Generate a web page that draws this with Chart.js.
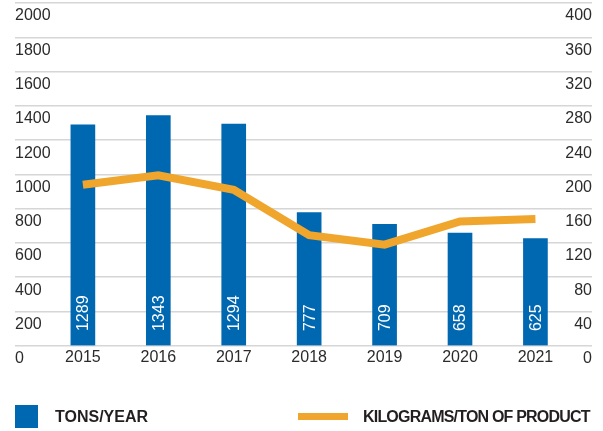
<!DOCTYPE html>
<html>
<head>
<meta charset="utf-8">
<script src="https://cdn.jsdelivr.net/npm/chart.js"></script>
<style>
  body { margin: 0; background: #fff; }
  #wrap { position: relative; width: 603px; height: 431px; font-family: "Liberation Sans", Arial, sans-serif; }
  .lg-box { position: absolute; left: 15px; top: 405px; width: 23px; height: 23px; background: #0067b1; }
  .lg-line { position: absolute; left: 298px; top: 413px; width: 50px; height: 7px; background: #f0a52c; }
  .lg-text { position: absolute; top: 407px; font-size: 16px; font-weight: bold; color: #231f20; line-height: 20px; white-space: nowrap; }
</style>
</head>
<body>
<div id="wrap">
  <canvas id="chart"></canvas>
  <div class="lg-box"></div>
  <div class="lg-text" style="left:55px">TONS/YEAR</div>
  <div class="lg-line"></div>
  <div class="lg-text" style="left:363px;letter-spacing:-0.8px">KILOGRAMS/TON OF PRODUCT</div>
</div>
<script>
// data
const years = ['2015', '2016', '2017', '2018', '2019', '2020', '2021'];
const tonsPerYear = [1289, 1343, 1294, 777, 709, 658, 625];
const kgPerTon = [188, 199, 182, 129, 118, 145, 148];

const BLUE = '#0067b1';
const ORANGE = '#f0a52c';

// white rotated value labels inside the bars
const barLabels = {
  id: 'barLabels',
  afterDatasetsDraw(chart) {
    const meta = chart.getDatasetMeta(1);
    const ctx = chart.ctx;
    ctx.save();
    ctx.fillStyle = '#fff';
    ctx.font = '16px "Liberation Sans", Arial, sans-serif';
    ctx.textAlign = 'left';
    ctx.textBaseline = 'middle';
    meta.data.forEach((bar, i) => {
      ctx.save();
      ctx.translate(bar.x + 1, bar.base - 14);
      ctx.rotate(-Math.PI / 2);
      ctx.fillText(String(tonsPerYear[i]), 0, 0);
      ctx.restore();
    });
    ctx.restore();
  }
};

const noPad = s => { s.paddingTop = 0; s.paddingBottom = 0; s.paddingLeft = 0; s.paddingRight = 0; };

Chart.defaults.font.family = '"Liberation Sans", Arial, sans-serif';
Chart.defaults.font.size = 16;
Chart.defaults.color = '#2b2b2b';

new Chart(document.getElementById('chart'), {
  type: 'bar',
  data: {
    datasets: [
      {
        type: 'line',
        label: 'KILOGRAMS/TON OF PRODUCT',
        data: kgPerTon.map((v, i) => ({ x: i, y: v })),
        yAxisID: 'y1',
        borderColor: ORANGE,
        borderWidth: 8,
        borderCapStyle: 'butt',
        pointRadius: 0,
        tension: 0,
        order: 1
      },
      {
        label: 'TONS/YEAR',
        data: tonsPerYear.map((v, i) => ({ x: i, y: v })),
        yAxisID: 'y',
        backgroundColor: BLUE,
        barThickness: 24,
        order: 2
      }
    ]
  },
  options: {
    responsive: true,
    maintainAspectRatio: false,
    animation: false,
    layout: { padding: { left: 15, right: 11, top: 3, bottom: 62 } },
    plugins: { legend: { display: false }, tooltip: { enabled: false } },
    scales: {
      x: {
        type: 'linear',
        offset: false,
        min: -0.9,
        max: 6.75,
        grid: { display: false, drawTicks: false },
        border: { display: false },
        afterBuildTicks: s => { s.ticks = years.map((y, i) => ({ value: i })); },
        afterFit: noPad,
        ticks: {
          autoSkip: false,
          maxRotation: 0,
          padding: 2,
          callback: v => years[v]
        }
      },
      y: {
        position: 'left',
        min: 0,
        max: 2000,
        grid: { color: '#d6d6d6', lineWidth: 1.5, drawTicks: false },
        border: { display: false },
        afterFit: noPad,
        ticks: { stepSize: 200, mirror: true, padding: 0, labelOffset: 13, callback: v => String(v) }
      },
      y1: {
        position: 'right',
        min: 0,
        max: 400,
        grid: { drawOnChartArea: false, drawTicks: false },
        border: { display: false },
        afterFit: noPad,
        ticks: { stepSize: 40, mirror: true, padding: 0, labelOffset: 13, callback: v => String(v) }
      }
    }
  },
  plugins: [barLabels]
});
</script>
</body>
</html>
